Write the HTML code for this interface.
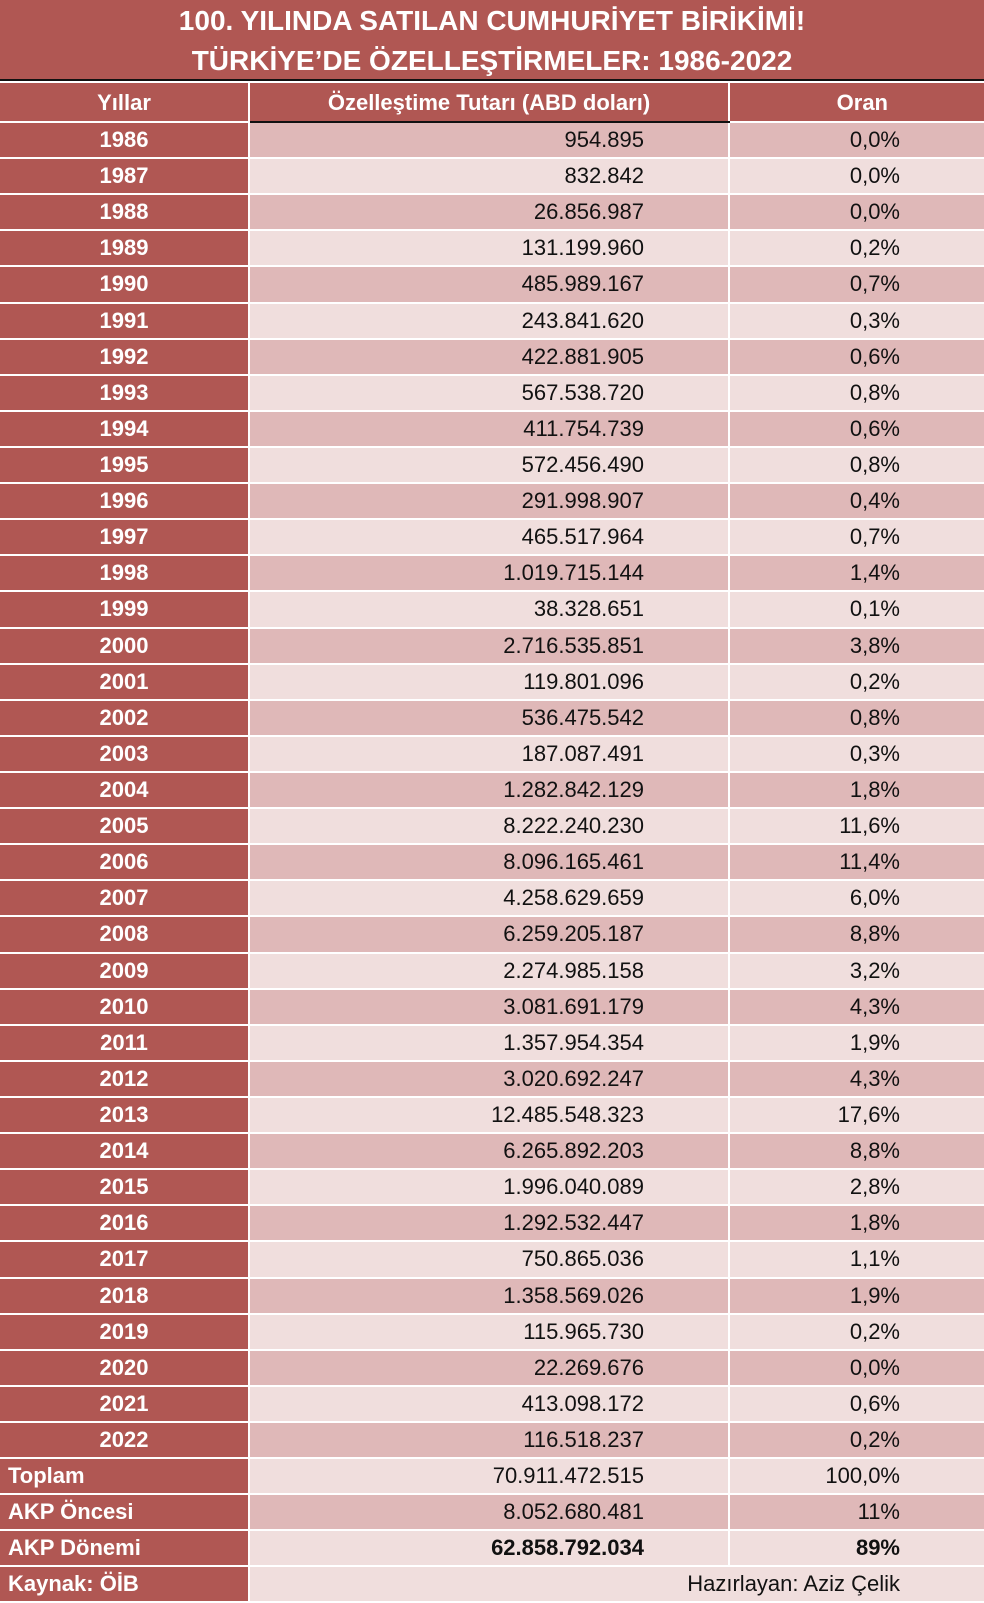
<!DOCTYPE html>
<html><head><meta charset="utf-8"><style>
*{margin:0;padding:0;box-sizing:border-box}
body{width:984px;height:1590px;overflow:hidden;background:#fff;font-family:"Liberation Sans Narrow","Liberation Sans",sans-serif;}
.title{position:absolute;left:0;top:0;width:984px;height:81px;background:#b05753;color:#fff;font-weight:bold;font-size:28px;text-align:center;line-height:40px;padding-top:1px;border-bottom:2px solid #111}
table{position:absolute;left:-2px;top:83px;width:988px;border-collapse:collapse;font-size:22px}
td{height:36.12px;border:2px solid #fff;padding:0;line-height:30px}
td.y{width:250px;background:#b05753;color:#fff;font-weight:bold;text-align:center}
td.l{background:#b05753;color:#fff;font-weight:bold;text-align:left;padding-left:8px}
td.n{width:480px;text-align:right;padding-right:84px;color:#111}
td.o{text-align:right;padding-right:84px;color:#111}
tr.d td.n,tr.d td.o{background:#dfb8b8}
tr.w td.n,tr.w td.o{background:#f0dedd}
tr.h td{height:39px;background:#b05753;color:#fff;font-weight:bold;text-align:center;border-top:none;padding-top:2px}
tr.h td.c2{border-bottom:2px solid #111}
tr.h td.c3{text-align:right;padding-right:96px}
</style></head><body>
<div class="title">100. YILINDA SATILAN CUMHURİYET BİRİKİMİ!<br>TÜRKİYE’DE ÖZELLEŞTİRMELER: 1986-2022</div>
<table>
<tr class="h"><td class="c1" style="width:250px">Yıllar</td><td class="c2" style="width:480px">Özelleştime Tutarı (ABD doları)</td><td class="c3">Oran</td></tr>
<tr class="d"><td class="y">1986</td><td class="n">954.895</td><td class="o">0,0%</td></tr>
<tr class="w"><td class="y">1987</td><td class="n">832.842</td><td class="o">0,0%</td></tr>
<tr class="d"><td class="y">1988</td><td class="n">26.856.987</td><td class="o">0,0%</td></tr>
<tr class="w"><td class="y">1989</td><td class="n">131.199.960</td><td class="o">0,2%</td></tr>
<tr class="d"><td class="y">1990</td><td class="n">485.989.167</td><td class="o">0,7%</td></tr>
<tr class="w"><td class="y">1991</td><td class="n">243.841.620</td><td class="o">0,3%</td></tr>
<tr class="d"><td class="y">1992</td><td class="n">422.881.905</td><td class="o">0,6%</td></tr>
<tr class="w"><td class="y">1993</td><td class="n">567.538.720</td><td class="o">0,8%</td></tr>
<tr class="d"><td class="y">1994</td><td class="n">411.754.739</td><td class="o">0,6%</td></tr>
<tr class="w"><td class="y">1995</td><td class="n">572.456.490</td><td class="o">0,8%</td></tr>
<tr class="d"><td class="y">1996</td><td class="n">291.998.907</td><td class="o">0,4%</td></tr>
<tr class="w"><td class="y">1997</td><td class="n">465.517.964</td><td class="o">0,7%</td></tr>
<tr class="d"><td class="y">1998</td><td class="n">1.019.715.144</td><td class="o">1,4%</td></tr>
<tr class="w"><td class="y">1999</td><td class="n">38.328.651</td><td class="o">0,1%</td></tr>
<tr class="d"><td class="y">2000</td><td class="n">2.716.535.851</td><td class="o">3,8%</td></tr>
<tr class="w"><td class="y">2001</td><td class="n">119.801.096</td><td class="o">0,2%</td></tr>
<tr class="d"><td class="y">2002</td><td class="n">536.475.542</td><td class="o">0,8%</td></tr>
<tr class="w"><td class="y">2003</td><td class="n">187.087.491</td><td class="o">0,3%</td></tr>
<tr class="d"><td class="y">2004</td><td class="n">1.282.842.129</td><td class="o">1,8%</td></tr>
<tr class="w"><td class="y">2005</td><td class="n">8.222.240.230</td><td class="o">11,6%</td></tr>
<tr class="d"><td class="y">2006</td><td class="n">8.096.165.461</td><td class="o">11,4%</td></tr>
<tr class="w"><td class="y">2007</td><td class="n">4.258.629.659</td><td class="o">6,0%</td></tr>
<tr class="d"><td class="y">2008</td><td class="n">6.259.205.187</td><td class="o">8,8%</td></tr>
<tr class="w"><td class="y">2009</td><td class="n">2.274.985.158</td><td class="o">3,2%</td></tr>
<tr class="d"><td class="y">2010</td><td class="n">3.081.691.179</td><td class="o">4,3%</td></tr>
<tr class="w"><td class="y">2011</td><td class="n">1.357.954.354</td><td class="o">1,9%</td></tr>
<tr class="d"><td class="y">2012</td><td class="n">3.020.692.247</td><td class="o">4,3%</td></tr>
<tr class="w"><td class="y">2013</td><td class="n">12.485.548.323</td><td class="o">17,6%</td></tr>
<tr class="d"><td class="y">2014</td><td class="n">6.265.892.203</td><td class="o">8,8%</td></tr>
<tr class="w"><td class="y">2015</td><td class="n">1.996.040.089</td><td class="o">2,8%</td></tr>
<tr class="d"><td class="y">2016</td><td class="n">1.292.532.447</td><td class="o">1,8%</td></tr>
<tr class="w"><td class="y">2017</td><td class="n">750.865.036</td><td class="o">1,1%</td></tr>
<tr class="d"><td class="y">2018</td><td class="n">1.358.569.026</td><td class="o">1,9%</td></tr>
<tr class="w"><td class="y">2019</td><td class="n">115.965.730</td><td class="o">0,2%</td></tr>
<tr class="d"><td class="y">2020</td><td class="n">22.269.676</td><td class="o">0,0%</td></tr>
<tr class="w"><td class="y">2021</td><td class="n">413.098.172</td><td class="o">0,6%</td></tr>
<tr class="d"><td class="y">2022</td><td class="n">116.518.237</td><td class="o">0,2%</td></tr>
<tr class="w"><td class="l">Toplam</td><td class="n">70.911.472.515</td><td class="o">100,0%</td></tr>
<tr class="d"><td class="l">AKP Öncesi</td><td class="n">8.052.680.481</td><td class="o">11%</td></tr>
<tr class="w"><td class="l">AKP Dönemi</td><td class="n" style="font-weight:bold">62.858.792.034</td><td class="o" style="font-weight:bold">89%</td></tr>
<tr class="w"><td class="l">Kaynak: ÖİB</td><td class="o" colspan="2" style="background:#f0dedd">Hazırlayan: Aziz Çelik</td></tr>
</table>
</body></html>
